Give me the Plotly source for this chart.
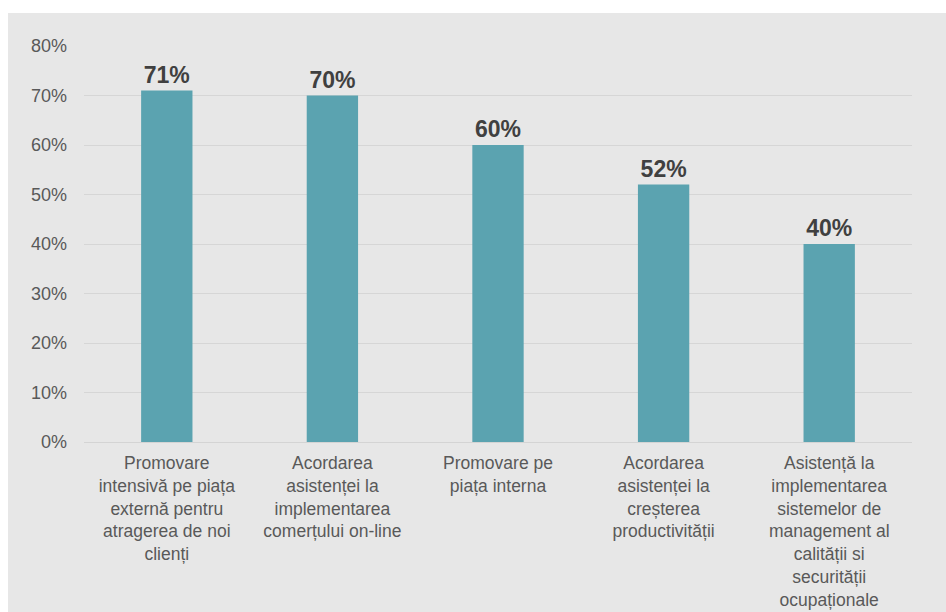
import plotly.graph_objects as go

categories = [
    "Promovare<br>intensivă pe piața<br>externă pentru<br>atragerea de noi<br>clienți",
    "Acordarea<br>asistenței la<br>implementarea<br>comerțului on-line",
    "Promovare pe<br>piața interna",
    "Acordarea<br>asistenței la<br>creșterea<br>productivității",
    "Asistență la<br>implementarea<br>sistemelor de<br>management al<br>calității si<br>securității<br>ocupaționale",
]
values = [71, 70, 60, 52, 40]
y_ticks = [0, 10, 20, 30, 40, 50, 60, 70, 80]
y_tick_labels = [f"{v}%" for v in y_ticks]

BAR = "#5ba3b0"
PANEL = "#e7e7e7"
FONT = "Liberation Sans, Arial, sans-serif"

fig = go.Figure(
    go.Bar(
        x=list(range(len(categories))),
        y=values,
        marker=dict(color=BAR, line=dict(width=0)),
        width=0.31,
        text=[f"{v}%" for v in values],
        textposition="outside",
        textfont=dict(family=FONT, size=23, color="#404040", weight="bold"),
        cliponaxis=False,
    )
)

# grey panel behind the chart
fig.add_shape(
    type="rect", xref="paper", yref="paper",
    x0=-0.0918, x1=1.05, y0=-0.45, y1=1.0833,
    fillcolor=PANEL, line=dict(width=0), layer="below",
)

fig.update_layout(
    width=946, height=612,
    margin=dict(l=84, r=34, t=46, b=170),
    paper_bgcolor="white",
    plot_bgcolor="rgba(0,0,0,0)",
    showlegend=False,
    font=dict(family=FONT, size=18, color="#595959"),
    bargap=0.69,
)
fig.update_xaxes(
    tickmode="array",
    tickvals=list(range(len(categories))),
    ticktext=categories,
    range=[-0.5, len(categories) - 0.5],
    showgrid=False,
    showline=True, linecolor="#d4d4d4", linewidth=1,
    tickfont=dict(family=FONT, size=17.5, color="#595959"),
    ticks="", ticklabelstandoff=5,
    automargin=False,
)
fig.update_yaxes(
    range=[0, 80],
    tickmode="array",
    tickvals=y_ticks,
    ticktext=y_tick_labels,
    showgrid=True, gridcolor="#d6d6d6", gridwidth=1,
    zeroline=False,
    tickfont=dict(family=FONT, size=18, color="#595959"),
    ticks="", ticklabelstandoff=16,
    automargin=False,
)

fig.write_html("out.html")
